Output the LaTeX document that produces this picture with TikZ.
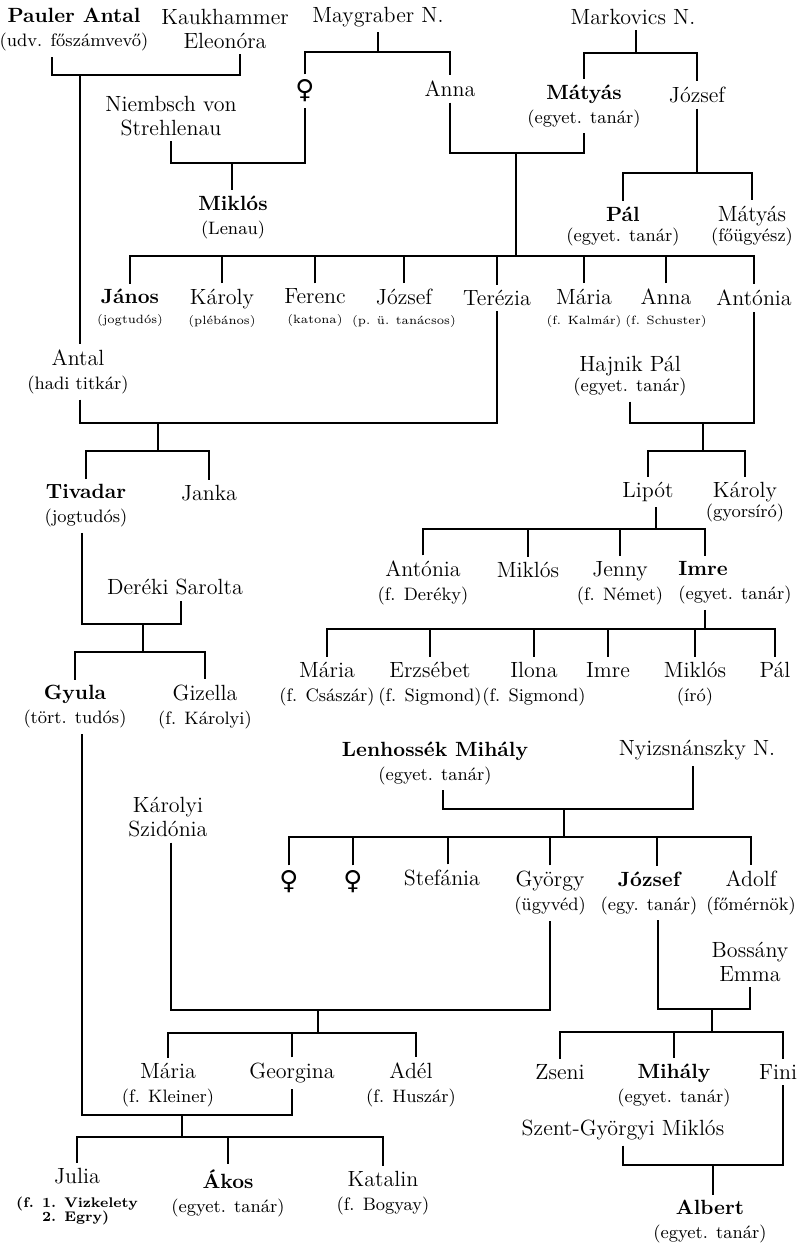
\documentclass[tikz,border=0pt]{standalone}
\usepackage{fontspec}
\newfontfamily\symfont{DejaVu Sans}
\newcommand{\bnm}[1]{{\fontsize{10.3}{12}\selectfont\bfseries #1}}
\newcommand{\occ}[1]{{\fontsize{9}{10}\selectfont #1}}
\newcommand{\occsm}[1]{{\fontsize{6}{7}\selectfont #1}}
\newcommand{\occjb}[1]{{\fontsize{7}{6.5}\selectfont\bfseries #1}}
\newcommand{\fem}{{\symfont\fontsize{13}{13}\selectfont ♀}}
\begin{document}
\begin{tikzpicture}[x=0.5pt, y=-0.5pt, line width=0.6pt,
    pers/.style={inner sep=2.5pt, align=center, font=\fontsize{11}{12}\selectfont}]
    \useasboundingbox (0,0) rectangle (801,1243);
    % ancestors
    \node (pauler) [pers] at (74,30) {\bnm{Pauler Antal}\\\occ{(udv. főszámvevő)}};
    \node (kauk) [pers] at (225,29) {Kaukhammer\\Eleonóra};
    \node (mayg) [pers] at (378,17) {Maygraber N.};
    \node (mark) [pers] at (633,17) {Markovics N.};
    \node (fem1) [pers] at (305,91) {\fem};
    \node (anna1) [pers] at (450,89) {Anna};
    \node (matyas1) [pers] at (584,106) {\bnm{Mátyás}\\\occ{(egyet. tanár)}};
    \node (jozsef1) [pers] at (697,95) {József};
    \node (niem) [pers] at (171,116) {Niembsch von\\Strehlenau};
    \node (lenau) [pers] at (233,217) {\bnm{Miklós}\\\occ{(Lenau)}};
    \node (pal1) [pers] at (623,226) {\bnm{Pál}\\[-2pt]\occ{(egyet. tanár)}};
    \node (matyas2) [pers] at (752,226) {Mátyás\\[-2pt]\occ{(főügyész)}};
    % children of Anna and Mátyás
    \node (janos) [pers] at (130,308) {\bnm{János}\\[-2pt]\occsm{(jogtudós)}};
    \node (karoly1) [pers] at (222,308) {Károly\\[-2pt]\occsm{(plébános)}};
    \node (ferenc) [pers] at (315,308) {Ferenc\\[-2pt]\occsm{(katona)}};
    \node (jozsef3) [pers] at (404,308) {József\\[-2pt]\occsm{(p. ü. tanácsos)}};
    \node (terezia) [pers] at (497,298) {Terézia};
    \node (maria1) [pers] at (584,308) {Mária\\[-2pt]\occsm{(f. Kalmár)}};
    \node (anna2) [pers] at (666,308) {Anna\\[-2pt]\occsm{(f. Schuster)}};
    \node (antonia1) [pers] at (754,298) {Antónia};
    \node (antal) [pers] at (78,372) {Antal\\\occ{(hadi titkár)}};
    \node (hajnik) [pers] at (630,376) {Hajnik Pál\\[-2pt]\occ{(egyet. tanár)}};
    % next generation
    \node (tivadar) [pers] at (86,506) {\bnm{Tivadar}\\\occ{(jogtudós)}};
    \node (janka) [pers] at (209,493) {Janka};
    \node (lipot) [pers] at (648,492) {Lipót};
    \node (karoly2) [pers] at (745,502) {Károly\\[-2pt]\occ{(gyorsíró)}};
    \node (sarolta) [pers] at (175,587) {Deréki Sarolta};
    \node (antonia2) [pers] at (423,583) {Antónia\\\occ{(f. Deréky)}};
    \node (miklos2) [pers] at (528,570) {Miklós};
    \node (jenny) [pers] at (620,583) {Jenny\\\occ{(f. Német)}};
    \node (imre1) [pers, align=left] at (735,583) {\bnm{Imre}\\\occ{(egyet. tanár)}};
    \node (gyula) [pers] at (75,707) {\bnm{Gyula}\\\occ{(tört. tudós)}};
    \node (gizella) [pers] at (205,707) {Gizella\\\occ{(f. Károlyi)}};
    \node (maria2) [pers] at (327,684) {Mária\\\occ{(f. Császár)}};
    \node (erzsebet) [pers] at (430,684) {Erzsébet\\\occ{(f. Sigmond)}};
    \node (ilona) [pers] at (534,684) {Ilona\\\occ{(f. Sigmond)}};
    \node (imre2) [pers] at (608,670) {Imre};
    \node (miklos3) [pers] at (695,684) {Miklós\\\occ{(író)}};
    \node (pal2) [pers] at (775,670) {Pál};
    % Lenhossék family
    \node (lenh) [pers] at (435,763) {\bnm{Lenhossék Mihály}\\\occ{(egyet. tanár)}};
    \node (nyizs) [pers] at (697,750) {Nyizsnánszky N.};
    \node (szidonia) [pers] at (168,817) {Károlyi\\Szidónia};
    \node (fem2) [pers] at (289,882) {\fem};
    \node (fem3) [pers] at (353,882) {\fem};
    \node (stefania) [pers] at (442,878) {Stefánia};
    \node (gyorgy) [pers] at (550,893) {György\\\occ{(ügyvéd)}};
    \node (jozsef2) [pers] at (649,893) {\bnm{József}\\\occ{(egy. tanár)}};
    \node (adolf) [pers] at (751,893) {Adolf\\\occ{(főmérnök)}};
    \node (bossany) [pers] at (750,962) {Bossány\\Emma};
    \node (maria3) [pers] at (168,1085) {Mária\\\occ{(f. Kleiner)}};
    \node (georgina) [pers] at (292,1073) {Georgina};
    \node (adel) [pers] at (411,1085) {Adél\\\occ{(f. Huszár)}};
    \node (zseni) [pers] at (560,1072) {Zseni};
    \node (mihaly2) [pers] at (674,1085) {\bnm{Mihály}\\\occ{(egyet. tanár)}};
    \node (fini) [pers] at (778,1072) {Fini};
    \node (szent) [pers] at (623,1130) {Szent-Györgyi Miklós};
    \node (julia) [pers] at (77,1197) {Julia\\\occjb{\begin{tabular}[t]{@{}l@{}}(f. 1. Vizkelety\\\hphantom{(f. }2. Egry)\end{tabular}}};
    \node (akos) [pers] at (228,1193) {\bnm{Ákos}\\\occ{(egyet. tanár)}};
    \node (katalin) [pers] at (383,1193) {Katalin\\\occ{(f. Bogyay)}};
    \node (albert) [pers] at (710,1222) {\bnm{Albert}\\\occ{(egyet. tanár)}};

    % Pauler + Kaukhammer
    \coordinate (pk) at (80,75);
    \draw ([xshift=-11pt]pauler.south) |- (pk) -| ([xshift=7.5pt]kauk.south);
    \draw (pk) -- (antal.north -| pk);
    % Maygraber
    \coordinate (my) at (378,52);
    \draw (mayg.south) -- (my);
    \draw (fem1.north) |- (my) -| (anna1.north);
    % Niembsch + daughter
    \coordinate (nf) at (232,163);
    \draw (niem.south) |- (nf) -| (fem1.south);
    \draw (nf) -- (lenau.north -| nf);
    % Markovics
    \coordinate (mk) at (636,53);
    \draw (mark.south -| mk) -- (mk);
    \draw (matyas1.north) |- (mk) -| (jozsef1.north);
    % Anna + Mátyás
    \coordinate (am) at (516,153);
    \coordinate (amk) at (516,256);
    \draw (anna1.south) |- (am) -| (matyas1.south);
    \draw (am) -- (amk);
    \draw (janos.north) |- (amk) -| (antonia1.north);
    \draw (karoly1.north) -- (karoly1.north |- amk);
    \draw (ferenc.north) -- (ferenc.north |- amk);
    \draw (jozsef3.north) -- (jozsef3.north |- amk);
    \draw (terezia.north) -- (terezia.north |- amk);
    \draw (maria1.north) -- (maria1.north |- amk);
    \draw (anna2.north) -- (anna2.north |- amk);
    % József
    \coordinate (jk) at (697,173);
    \draw (jozsef1.south) -- (jk);
    \draw (pal1.north) |- (jk) -| (matyas2.north);
    % Antal + Terézia
    \coordinate (at) at (158,423);
    \coordinate (atk) at (158,451);
    \draw (antal.south -| pk) |- (at) -| (terezia.south);
    \draw (at) -- (atk);
    \draw (tivadar.north) |- (atk) -| (janka.north);
    % Hajnik + Antónia
    \coordinate (ha) at (703,423);
    \coordinate (hak) at (703,451);
    \draw (hajnik.south) |- (ha) -| (antonia1.south);
    \draw (ha) -- (hak);
    \draw (lipot.north) |- (hak) -| (karoly2.north);
    % Tivadar + Deréki Sarolta
    \coordinate (ts) at (143,624);
    \coordinate (tsk) at (143,652);
    \draw ([xshift=-2pt]tivadar.south) |- (ts) -| ([xshift=3pt]sarolta.south);
    \draw (ts) -- (tsk);
    \draw (gyula.north) |- (tsk) -| (gizella.north);
    % Lipót
    \coordinate (lk) at (656,529);
    \draw (lipot.south -| lk) -- (lk);
    \draw (antonia2.north) |- (lk) -| ([xshift=-15pt]imre1.north);
    \draw (miklos2.north) -- (miklos2.north |- lk);
    \draw (jenny.north) -- (jenny.north |- lk);
    % Imre
    \coordinate (ik) at (705,629);
    \draw ([xshift=-15pt]imre1.south) -- (ik);
    \draw (maria2.north) |- (ik) -| (pal2.north);
    \draw (erzsebet.north) -- (erzsebet.north |- ik);
    \draw (ilona.north) -- (ilona.north |- ik);
    \draw (imre2.north) -- (imre2.north |- ik);
    \draw (miklos3.north) -- (miklos3.north |- ik);
    % Lenhossék + Nyizsnánszky
    \coordinate (ln) at (564,809);
    \coordinate (lnk) at (564,837);
    \draw ([xshift=4pt]lenh.south) |- (ln) -| ([xshift=-2pt]nyizs.south);
    \draw (ln) -- (lnk);
    \draw (fem2.north) |- (lnk) -| (adolf.north);
    \draw (fem3.north) -- (fem3.north |- lnk);
    \draw ([xshift=3pt]stefania.north) -- ([xshift=3pt]stefania.north |- lnk);
    \draw (gyorgy.north) -- (gyorgy.north |- lnk);
    \draw ([xshift=4pt]jozsef2.north) -- ([xshift=4pt]jozsef2.north |- lnk);
    % Károlyi Szidónia + György
    \coordinate (sg) at (318,1010);
    \coordinate (sgk) at (318,1033);
    \draw ([xshift=1.5pt]szidonia.south) |- (sg) -| (gyorgy.south);
    \draw (sg) -- (sgk);
    \draw (maria3.north) |- (sgk) -| ([xshift=2.5pt]adel.north);
    \draw (georgina.north) -- (georgina.north |- sgk);
    % József + Bossány Emma
    \coordinate (jb) at (712,1009);
    \coordinate (jbk) at (712,1032);
    \draw ([xshift=4.5pt]jozsef2.south) |- (jb) -| (bossany.south);
    \draw (jb) -- (jbk);
    \draw (zseni.north) |- (jbk) -| ([xshift=2.5pt]fini.north);
    \draw (mihaly2.north) -- (mihaly2.north |- jbk);
    % Gyula + Georgina
    \coordinate (gg) at (182,1115);
    \coordinate (ggk) at (182,1137);
    \draw ([xshift=3.5pt]gyula.south) |- (gg) -| (georgina.south);
    \draw (gg) -- (ggk);
    \draw (julia.north) |- (ggk) -| (katalin.north);
    \draw (akos.north) -- (akos.north |- ggk);
    % Szent-Györgyi + Fini
    \coordinate (sf) at (713,1165);
    \draw (szent.south) |- (sf) -| ([xshift=2.5pt]fini.south);
    \draw (sf) -- (albert.north -| sf);
\end{tikzpicture}
\end{document}
